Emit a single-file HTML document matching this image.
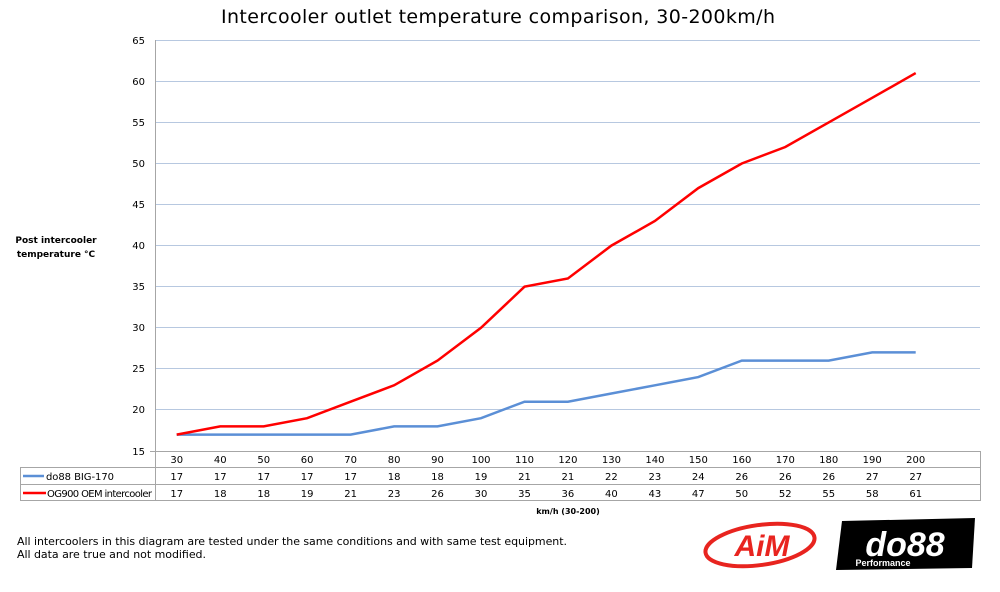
<!DOCTYPE html>
<html><head><meta charset="utf-8"><style>
body{margin:0;background:#fff;width:1000px;height:588px;overflow:hidden;font-family:"DejaVu Sans","Liberation Sans",sans-serif}
</style></head><body>
<svg width="1000" height="588" xmlns="http://www.w3.org/2000/svg" font-family="DejaVu Sans, Liberation Sans, sans-serif">
<text x="498" y="23" font-size="19" text-anchor="middle" fill="#000" textLength="554">Intercooler outlet temperature comparison, 30-200km/h</text>
<g stroke="#b7c8e0" stroke-width="1">
<line x1="155" y1="40.5" x2="980" y2="40.5"/><line x1="155" y1="81.5" x2="980" y2="81.5"/>
<line x1="155" y1="122.5" x2="980" y2="122.5"/><line x1="155" y1="163.5" x2="980" y2="163.5"/>
<line x1="155" y1="204.5" x2="980" y2="204.5"/><line x1="155" y1="245.5" x2="980" y2="245.5"/>
<line x1="155" y1="286.5" x2="980" y2="286.5"/><line x1="155" y1="327.5" x2="980" y2="327.5"/>
<line x1="155" y1="368.5" x2="980" y2="368.5"/><line x1="155" y1="409.5" x2="980" y2="409.5"/>
</g>
<g font-size="10" text-anchor="end" fill="#000">
<text x="145" y="44">65</text><text x="145" y="85">60</text><text x="145" y="126">55</text><text x="145" y="167">50</text><text x="145" y="208">45</text><text x="145" y="249">40</text><text x="145" y="290">35</text><text x="145" y="331">30</text><text x="145" y="372">25</text><text x="145" y="413">20</text><text x="145" y="455">15</text>
</g>
<text x="56" y="243" font-size="9" font-weight="bold" text-anchor="middle">Post intercooler</text>
<text x="56" y="257" font-size="9" font-weight="bold" text-anchor="middle">temperature °C</text>
<g stroke="#a6a6a6" stroke-width="1" fill="none">
<line x1="155.5" y1="40" x2="155.5" y2="501"/>
<line x1="150" y1="451.5" x2="980.5" y2="451.5"/>
<rect x="20.5" y="467.5" width="960" height="33"/>
<line x1="20.5" y1="484.5" x2="980.5" y2="484.5"/>
<line x1="980.5" y1="451" x2="980.5" y2="501"/>
</g>
<polyline fill="none" stroke="#5b8fd6" stroke-width="2.5" points="176.7,434.6 220.2,434.6 263.7,434.6 307.1,434.6 350.6,434.6 394.1,426.4 437.5,426.4 481,418.2 524.5,401.7 567.9,401.7 611.4,393.5 654.9,385.3 698.3,377.1 741.8,360.6 785.3,360.6 828.7,360.6 872.2,352.4 915.7,352.4"/>
<polyline fill="none" stroke="#ff0000" stroke-width="2.5" points="176.7,434.6 220.2,426.4 263.7,426.4 307.1,418.2 350.6,401.7 394.1,385.3 437.5,360.6 481,327.8 524.5,286.7 567.9,278.5 611.4,245.6 654.9,221 698.3,188.1 741.8,163.5 785.3,147 828.7,122.4 872.2,97.8 915.7,73.1"/>
<g font-size="10" text-anchor="middle" fill="#000">
<text x="176.7" y="463">30</text><text x="220.2" y="463">40</text><text x="263.7" y="463">50</text><text x="307.1" y="463">60</text><text x="350.6" y="463">70</text><text x="394.1" y="463">80</text><text x="437.5" y="463">90</text><text x="481" y="463">100</text><text x="524.5" y="463">110</text><text x="567.9" y="463">120</text><text x="611.4" y="463">130</text><text x="654.9" y="463">140</text><text x="698.3" y="463">150</text><text x="741.8" y="463">160</text><text x="785.3" y="463">170</text><text x="828.7" y="463">180</text><text x="872.2" y="463">190</text><text x="915.7" y="463">200</text>
<text x="176.7" y="480">17</text><text x="220.2" y="480">17</text><text x="263.7" y="480">17</text><text x="307.1" y="480">17</text><text x="350.6" y="480">17</text><text x="394.1" y="480">18</text><text x="437.5" y="480">18</text><text x="481" y="480">19</text><text x="524.5" y="480">21</text><text x="567.9" y="480">21</text><text x="611.4" y="480">22</text><text x="654.9" y="480">23</text><text x="698.3" y="480">24</text><text x="741.8" y="480">26</text><text x="785.3" y="480">26</text><text x="828.7" y="480">26</text><text x="872.2" y="480">27</text><text x="915.7" y="480">27</text>
<text x="176.7" y="497">17</text><text x="220.2" y="497">18</text><text x="263.7" y="497">18</text><text x="307.1" y="497">19</text><text x="350.6" y="497">21</text><text x="394.1" y="497">23</text><text x="437.5" y="497">26</text><text x="481" y="497">30</text><text x="524.5" y="497">35</text><text x="567.9" y="497">36</text><text x="611.4" y="497">40</text><text x="654.9" y="497">43</text><text x="698.3" y="497">47</text><text x="741.8" y="497">50</text><text x="785.3" y="497">52</text><text x="828.7" y="497">55</text><text x="872.2" y="497">58</text><text x="915.7" y="497">61</text>
</g>
<line x1="23" y1="476" x2="44" y2="476" stroke="#5b8fd6" stroke-width="2.5"/>
<line x1="23" y1="493" x2="46" y2="493" stroke="#ff0000" stroke-width="2.5"/>
<text x="46" y="480" font-size="10" textLength="68">do88 BIG-170</text>
<text x="47" y="497" font-size="10" textLength="105">OG900 OEM intercooler</text>
<text x="568" y="514" font-size="8" font-weight="bold" text-anchor="middle">km/h (30-200)</text>
<text x="17" y="545" font-size="11" textLength="550">All intercoolers in this diagram are tested under the same conditions and with same test equipment.</text>
<text x="17" y="558" font-size="11" textLength="189">All data are true and not modified.</text>
<ellipse cx="760" cy="545" rx="55" ry="20" fill="none" stroke="#e8241f" stroke-width="4" transform="rotate(-8 760 545)"/>
<text x="762" y="556" font-size="30" font-style="italic" font-weight="bold" fill="#e8241f" text-anchor="middle" font-family="Liberation Sans, sans-serif">AiM</text>
<polygon points="842,521 975,518 972,568 836,570" fill="#000"/>
<text x="905" y="556" font-size="34" font-weight="bold" font-style="italic" fill="#fff" text-anchor="middle" font-family="Liberation Sans, sans-serif">do88</text>
<text x="883" y="566" font-size="9" font-weight="bold" fill="#fff" text-anchor="middle" font-family="Liberation Sans, sans-serif">Performance</text>
</svg>
</body></html>
